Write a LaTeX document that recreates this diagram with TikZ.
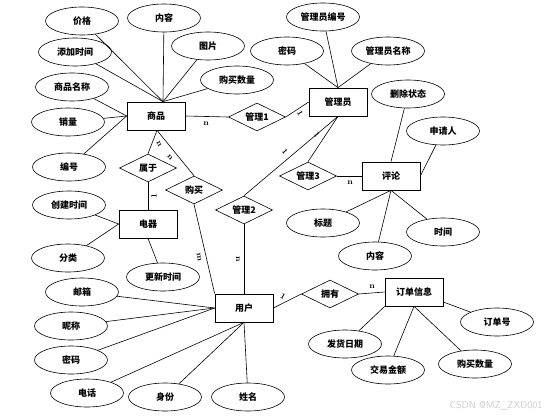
\documentclass[tikz,border=0pt]{standalone}
\usepackage{fontspec}
\newfontfamily\cjk{Noto Sans CJK SC}
\usepackage{tikz}
\usetikzlibrary{shapes.geometric}

\begin{document}
\begin{tikzpicture}[x=1pt, y=-1pt,
  entity/.style={rectangle, draw, line width=0.7pt, minimum width=58pt, minimum height=28pt, inner sep=0pt, font=\cjk\bfseries\small},
  attr/.style={ellipse, draw, line width=0.6pt, minimum width=73pt, minimum height=28pt, inner sep=0pt, font=\cjk\bfseries\small},
  rel/.style={diamond, draw, line width=0.6pt, minimum width=57pt, minimum height=28pt, inner sep=0pt, aspect=2, font=\cjk\bfseries\small},
  card/.style={font=\footnotesize\bfseries, inner sep=1pt},
  link/.style={line width=0.6pt}]
\useasboundingbox (0,0) rectangle (553,417);
% entities
\node[entity] (goods) at (156,116) {商品};
\node[entity] (admin) at (338,102) {管理员};
\node[entity] (review) at (391,176) {评论};
\node[entity] (elec) at (148,224) {电器};
\node[entity] (user) at (244,308) {用户};
\node[entity] (order) at (414,292) {订单信息};
% relationships
\node[rel] (mgr1) at (257,117) {管理1};
\node[rel] (mgr2) at (244,210) {管理2};
\node[rel] (mgr3) at (308,176) {管理3};
\node[rel] (belong) at (148,168) {属于};
\node[rel] (buy) at (194,190) {购买};
\node[rel] (own) at (330,294) {拥有};
% goods attributes
\node[attr] (gprice) at (82,21) {价格};
\node[attr] (gtext) at (164,18) {内容};
\node[attr] (gpic) at (208,46) {图片};
\node[attr] (gqty) at (237,80) {购买数量};
\node[attr] (gadd) at (75,52) {添加时间};
\node[attr] (gname) at (72,87) {商品名称};
\node[attr] (gsales) at (68,122) {销量};
\node[attr] (gid) at (69,167) {编号};
% admin attributes
\node[attr] (aid) at (323,17) {管理员编号};
\node[attr] (apwd) at (287,51) {密码};
\node[attr] (aname) at (388,51) {管理员名称};
% review attributes
\node[attr] (rdel) at (408,94) {删除状态};
\node[attr] (rapp) at (443,131) {申请人};
\node[attr] (rtitle) at (323,223) {标题};
\node[attr] (rtext) at (375,256) {内容};
\node[attr] (rtime) at (443,232) {时间};
% electrical attributes
\node[attr] (ecreate) at (69,205) {创建时间};
\node[attr] (ecat) at (68,258) {分类};
\node[attr] (eupd) at (163,277) {更新时间};
% user attributes
\node[attr] (umail) at (82,292) {邮箱};
\node[attr] (unick) at (71,326) {昵称};
\node[attr] (upwd) at (71,360) {密码};
\node[attr] (utel) at (87,393) {电话};
\node[attr] (urole) at (165,397) {身份};
\node[attr] (uname) at (248,397) {姓名};
% order attributes
\node[attr] (ono) at (497,322) {订单号};
\node[attr] (odate) at (345,344) {发货日期};
\node[attr] (oamt) at (388,370) {交易金额};
\node[attr] (oqty) at (475,364) {购买数量};
% attribute links
\foreach \a in {gprice,gtext,gpic,gqty,gadd}
  \draw[link] (\a) -- ([xshift=7pt]goods.north);
\foreach \a in {gname,gsales,gid}
  \draw[link] (\a) -- (goods.west);
\foreach \a in {aid,apwd,aname}
  \draw[link] (\a) -- (admin.north);
\draw[link] (rdel) -- (review.north);
\draw[link] (rapp) -- (review.east);
\foreach \a in {rtitle,rtext,rtime}
  \draw[link] (\a) -- (review.south);
\foreach \a in {ecreate,ecat}
  \draw[link] (\a) -- (elec.west);
\draw[link] (eupd) -- (elec.south);
\foreach \a in {umail,unick,upwd}
  \draw[link] (\a) -- (user.west);
\foreach \a in {utel,urole,uname}
  \draw[link] (\a) -- (user.south);
\draw[link] (odate) -- (order.south west);
\draw[link] (oamt) -- (order.south);
\draw[link] (oqty) -- (order.south);
\draw[link] (ono) -- ([yshift=-10pt]order.east);
% relationship links
\draw[link] (goods.east) -- (mgr1.west);
\draw[link] (mgr1.east) -- (admin.west);
\draw[link] ([xshift=1pt]goods.south) -- (belong.north);
\draw[link] ([xshift=1pt]goods.south) -- (buy.north);
\draw[link] (belong.south) -- (elec.north);
\draw[link] (buy.south) -- (user.north west);
\draw[link] (mgr2.north) -- (admin.south);
\draw[link] (mgr3.north) -- (admin.south);
\draw[link] (mgr2.south) -- (user.north);
\draw[link] (mgr3.east) -- (review.west);
\draw[link] (user.east) -- (own.west);
\draw[link] (own.east) -- (order.west);
% cardinalities
\node[card] (c1) at (206,124) {n};
\node[card, rotate=-60] (c2) at (300,113) {1};
\node[card, rotate=-60] (c3) at (159,144) {n};
\node[card, rotate=-50] (c4) at (170,157) {n};
\node[card, rotate=90] (c5) at (154,196) {1};
\node[card, rotate=-80] (c6) at (199,257) {m};
\node[card, rotate=-50] (c7) at (285,152) {1};
\node[card, rotate=-50] (c8) at (317,135) {1};
\node[card, rotate=-90] (c9) at (238,259) {n};
\node[card] (c10) at (350,183) {n};
\node[card, rotate=-30] (c11) at (283,296) {1};
\node[card] (c12) at (372,287) {n};
% watermark
\node[font=\sffamily\fontsize{10}{12}\selectfont, text=gray!40] (mark) at (496,406) {CSDN @MZ\_ZXD001};
\end{tikzpicture}
\end{document}
